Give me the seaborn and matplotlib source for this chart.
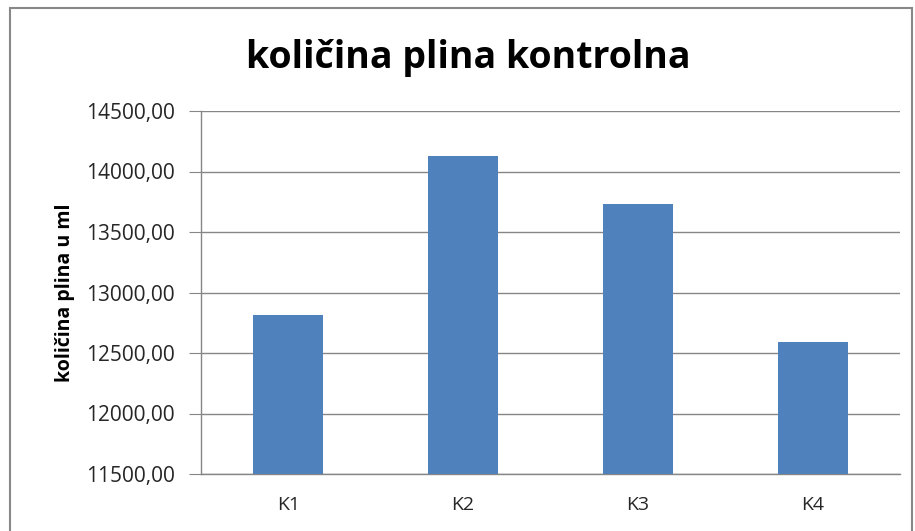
import matplotlib
matplotlib.use("Agg")
import matplotlib.pyplot as plt
import seaborn as sns
import pandas as pd
from matplotlib.patches import Rectangle
from matplotlib.ticker import FuncFormatter

categories = ["K1", "K2", "K3", "K4"]
values = [12810, 14130, 13735, 12590]

df = pd.DataFrame({"uzorak": categories, "kolicina": values})

sns.set_style("white")
plt.rcParams["font.family"] = ["Open Sans", "DejaVu Sans"]

fig = plt.figure(figsize=(9.15, 5.31), dpi=100)
ax = fig.add_axes([201 / 915, 1 - 474 / 531, 699 / 915, 363 / 531])

sns.barplot(data=df, x="uzorak", y="kolicina", color="#4F81BD",
            width=0.4, saturation=1, linewidth=0, ax=ax, zorder=3)

ax.set_ylim(11500, 14500)
ax.set_xlim(-0.5, 3.5)
ax.set_yticks(range(11500, 14501, 500))
ax.yaxis.set_major_formatter(FuncFormatter(lambda v, p: f"{v:.2f}".replace(".", ",")))
ax.grid(axis="y", color="#868686", linewidth=1, zorder=0)
ax.grid(axis="x", visible=False)

for s in ["top", "right"]:
    ax.spines[s].set_visible(False)
for s in ["left", "bottom"]:
    ax.spines[s].set_color("#868686")
    ax.spines[s].set_linewidth(1)

ax.tick_params(axis="y", which="major", left=True, length=9, color="#868686",
               labelsize=15, pad=10, labelcolor="#262626")
ax.tick_params(axis="x", bottom=False, labelsize=14, pad=12, labelcolor="#262626")

ax.set_xlabel("")
ax.set_ylabel("količina plina u ml", fontsize=14, fontweight="bold", labelpad=8,
              color="black")

fig.text(468 / 915, 1 - 58 / 531, "količina plina kontrolna", ha="center", va="center",
         fontsize=27, fontweight="bold", color="black")

fig.patches.append(Rectangle((10 / 915, -0.05), 902 / 915, 1 - 8 / 531 + 0.05,
                             transform=fig.transFigure, fill=False,
                             edgecolor="#888888", linewidth=1.5))

fig.savefig("out.png", dpi=100)
